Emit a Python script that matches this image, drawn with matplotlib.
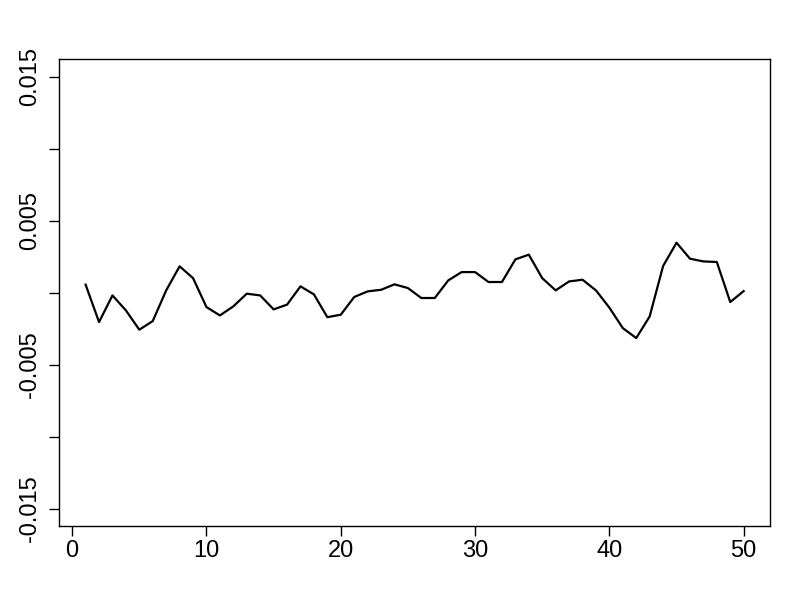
import matplotlib
matplotlib.use("Agg")
import matplotlib.pyplot as plt

plt.rcParams['font.family'] = ['Liberation Sans', 'DejaVu Sans']
plt.rcParams['axes.unicode_minus'] = False

# series
idx = list(range(1, 51))
vals = [0.00056, -0.00204, -0.00019, -0.00123, -0.00257, -0.00197, 0.00016, 0.00183, 0.00101, -0.00100,
        -0.00158, -0.00095, -0.00007, -0.00019, -0.00116, -0.00083, 0.00044, -0.00012, -0.00170, -0.00153,
        -0.00030, 0.00009, 0.00020, 0.00058, 0.00032, -0.00037, -0.00037, 0.00085, 0.00143, 0.00143,
        0.00074, 0.00074, 0.00231, 0.00264, 0.00101, 0.00016, 0.00078, 0.00090, 0.00016, -0.00104,
        -0.00246, -0.00315, -0.00165, 0.00185, 0.00347, 0.00236, 0.00217, 0.00213, -0.00065, 0.00011]

xticks = [0, 10, 20, 30, 40, 50]
yticks = [-0.015, -0.010, -0.005, 0.0, 0.005, 0.010, 0.015]
ylabels = ['-0.015', '', '-0.005', '', '0.005', '', '0.015']

fig = plt.figure(figsize=(8, 6), dpi=100)
ax = fig.add_axes([0.0741, 0.1233, 0.8884, 0.7778])
ax.plot(idx, vals, color='black', linewidth=1.6)

ax.set_xlim(-0.96, 51.96)
ax.set_ylim(-0.0162, 0.0162)
ax.set_xticks(xticks)
ax.set_xticklabels([str(t) for t in xticks])
ax.set_yticks(yticks)
ax.set_yticklabels(ylabels, rotation=90, va='center')

for s in ax.spines.values():
    s.set_linewidth(1.0)
ax.tick_params(axis='both', direction='out', length=7, width=1.0, labelsize=17, colors='black')
ax.tick_params(axis='x', pad=3)
ax.tick_params(axis='y', pad=6)

fig.savefig('out.png', dpi=100)
